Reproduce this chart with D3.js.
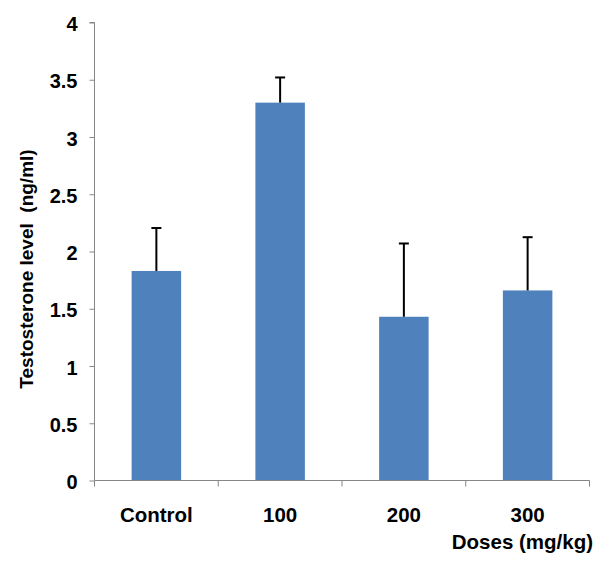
<!DOCTYPE html>
<html>
<head>
<meta charset="utf-8">
<script src="https://cdn.jsdelivr.net/npm/d3@7"></script>
<style>
body{margin:0;background:#fff;}
text{font-family:"Liberation Sans",Arial,sans-serif;font-weight:bold;fill:#000;}
</style>
</head>
<body>
<svg id="chart" width="606" height="576"></svg>
<script>
const categories = ["Control", "100", "200", "300"];
const values = [1.83, 3.30, 1.43, 1.66];
const errors = [0.375, 0.22, 0.64, 0.465];
const yTicks = [0, 0.5, 1, 1.5, 2, 2.5, 3, 3.5, 4];
const yTitle = "Testosterone level  (ng/ml)";
const xTitle = "Doses (mg/kg)";

const svg = d3.select("#chart");
const mLeft = 94.5, mRight = 589.5, mTop = 22.5, mBottom = 480.5;

const x = d3.scaleBand().domain(categories).range([mLeft, mRight]).paddingInner(0.6).paddingOuter(0.3);
const y = d3.scaleLinear().domain([0, 4]).range([mBottom, mTop]);

const axisColor = "#868686";

// bars
svg.selectAll("rect.bar").data(categories).enter().append("rect")
  .attr("x", d => x(d)).attr("width", x.bandwidth())
  .attr("y", (d, i) => y(values[i])).attr("height", (d, i) => y(0) - y(values[i]))
  .attr("fill", "#4F81BD");

// error bars
const eg = svg.selectAll("g.err").data(categories).enter().append("g");
eg.append("line")
  .attr("x1", d => x(d) + x.bandwidth() / 2).attr("x2", d => x(d) + x.bandwidth() / 2)
  .attr("y1", (d, i) => y(values[i])).attr("y2", (d, i) => y(values[i] + errors[i]))
  .attr("stroke", "#000").attr("stroke-width", 2);
eg.append("line")
  .attr("x1", d => x(d) + x.bandwidth() / 2 - 5).attr("x2", d => x(d) + x.bandwidth() / 2 + 5)
  .attr("y1", (d, i) => y(values[i] + errors[i])).attr("y2", (d, i) => y(values[i] + errors[i]))
  .attr("stroke", "#000").attr("stroke-width", 2);

// y axis
const yAxis = d3.axisLeft(y).tickValues(yTicks).tickSize(5).tickPadding(12).tickFormat(d3.format("~g"));
const gy = svg.append("g").attr("transform", `translate(${mLeft},0)`).call(yAxis);
gy.select(".domain").attr("stroke", axisColor).attr("d", `M-5,${mTop}H0V${mBottom}`);
gy.selectAll(".tick line").attr("stroke", axisColor);
gy.selectAll(".tick text").style("font-size", "20px").attr("dy", "0.4em");

// x axis
const gx = svg.append("g").attr("transform", `translate(0,${mBottom})`);
gx.append("line").attr("x1", mLeft).attr("x2", mRight).attr("stroke", axisColor);
const xt = d3.scaleLinear().domain([0, categories.length]).range([mLeft, mRight]);
gx.selectAll("line.t").data(d3.range(categories.length + 1)).enter().append("line")
  .attr("x1", d => xt(d)).attr("x2", d => xt(d)).attr("y1", 0).attr("y2", 6).attr("stroke", axisColor);
gx.selectAll("text.c").data(categories).enter().append("text")
  .attr("x", d => x(d) + x.bandwidth() / 2).attr("y", 41)
  .attr("text-anchor", "middle").style("font-size", "20.5px").text(d => d);

// titles
svg.append("text").attr("x", 593).attr("y", 549).attr("text-anchor", "end").style("font-size", "20.5px").text(xTitle);
svg.append("text").attr("transform", "translate(33,269) rotate(-90)").attr("text-anchor", "middle")
  .style("font-size", "19px").style("white-space", "pre").text(yTitle);
</script>
</body>
</html>
